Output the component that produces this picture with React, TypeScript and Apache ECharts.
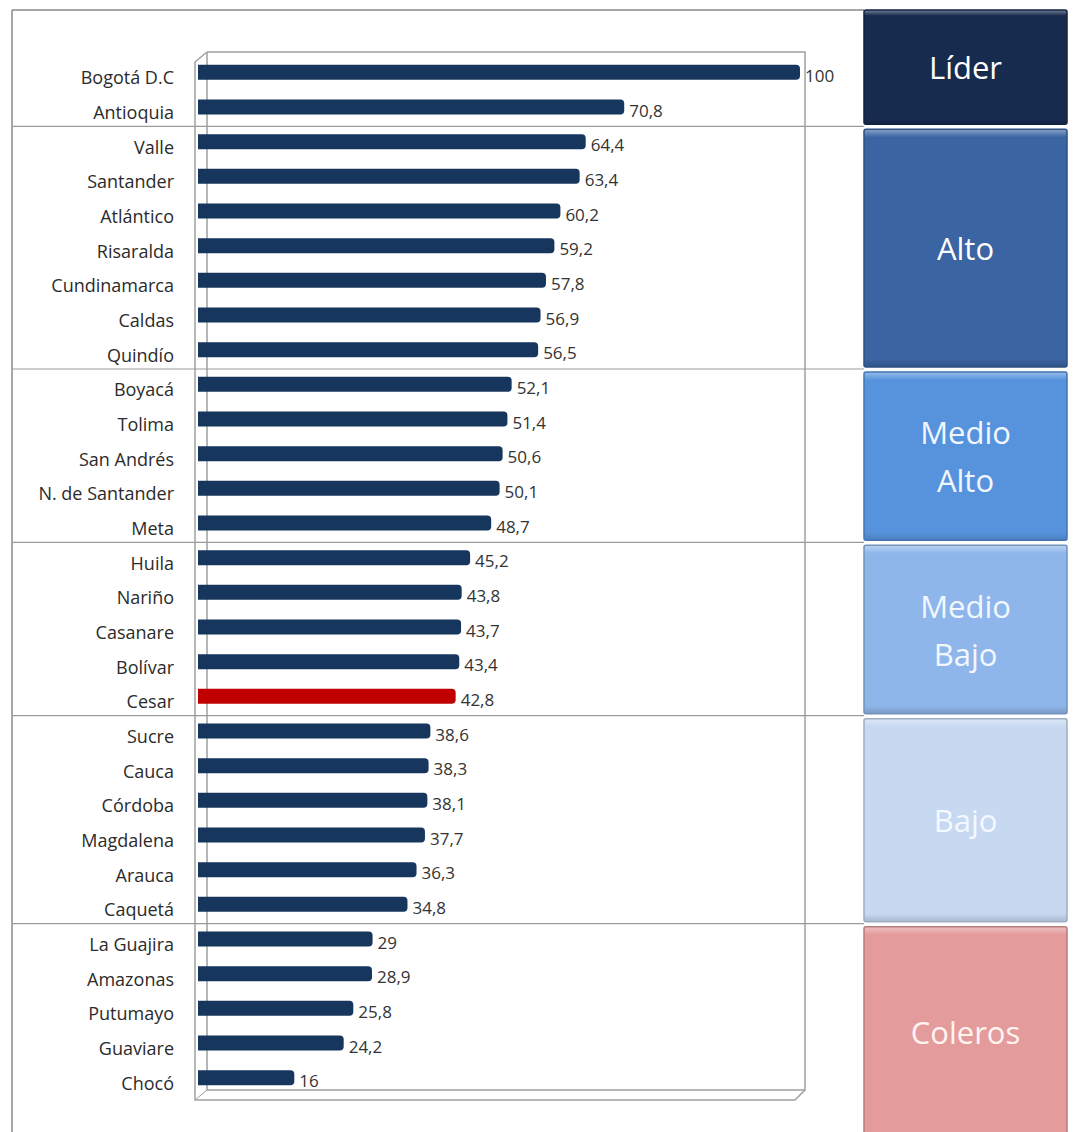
import React, { useEffect, useRef } from "react";
import * as echarts from "echarts";

const categories = [
  "Bogotá D.C", "Antioquia", "Valle", "Santander", "Atlántico", "Risaralda", "Cundinamarca", "Caldas", "Quindío",
  "Boyacá", "Tolima", "San Andrés", "N. de Santander", "Meta",
  "Huila", "Nariño", "Casanare", "Bolívar", "Cesar",
  "Sucre", "Cauca", "Córdoba", "Magdalena", "Arauca", "Caquetá",
  "La Guajira", "Amazonas", "Putumayo", "Guaviare", "Chocó",
];
const values = [
  100, 70.8, 64.4, 63.4, 60.2, 59.2, 57.8, 56.9, 56.5,
  52.1, 51.4, 50.6, 50.1, 48.7,
  45.2, 43.8, 43.7, 43.4, 42.8,
  38.6, 38.3, 38.1, 37.7, 36.3, 34.8,
  29, 28.9, 25.8, 24.2, 16,
];
const highlighted = ["Cesar"];
const groupNames = ["Líder", "Alto", "Medio\nAlto", "Medio\nBajo", "Bajo", "Coleros"];
const groupSizes = [2, 7, 5, 5, 6, 5];
const groupColors = ["#172b4f", "#3a64a2", "#5793dd", "#8fb6ea", "#c6d9f1", "#e49b9b"];
const groupTextColors = ["#ffffff", "#ffffff", "#f2f7ff", "#f2f7ff", "#f4f8ff", "#fff4f2"];

const BAR = "#17365d";
const HIGHLIGHT = "#c00000";

function shade(hex: string, f: number): string {
  const n = parseInt(hex.slice(1), 16);
  let r = (n >> 16) & 255, g = (n >> 8) & 255, b = n & 255;
  if (f >= 0) {
    r = Math.round(r + (255 - r) * f); g = Math.round(g + (255 - g) * f); b = Math.round(b + (255 - b) * f);
  } else {
    r = Math.round(r * (1 + f)); g = Math.round(g * (1 + f)); b = Math.round(b * (1 + f));
  }
  return `rgb(${r},${g},${b})`;
}

export default function App() {
  const ref = useRef<HTMLDivElement>(null);
  useEffect(() => {
    document.body.style.margin = "0";
    const chart = echarts.init(ref.current!, null, { renderer: "svg" });
    const option: any = {
      animation: false,
      backgroundColor: "#ffffff",
      grid: { left: 198, right: 273, top: 55, bottom: 37, containLabel: false },
      xAxis: { type: "value", min: 0, max: 100, show: false },
      yAxis: {
        type: "category",
        inverse: true,
        data: categories,
        axisLine: { show: false },
        axisTick: { show: false },
        axisLabel: {
          fontFamily: "Open Sans",
          fontSize: 18,
          color: "#2b2b2b",
          margin: 24,
          verticalAlign: "top",
          lineHeight: 10,
        },
      },
      series: [
        {
          type: "bar",
          barWidth: 15,
          data: values.map((v, i) => ({
            value: v,
            itemStyle: {
              color: highlighted.includes(categories[i]) ? HIGHLIGHT : BAR,
              borderRadius: [0, 4, 4, 0],
            },
          })),
          label: {
            show: true,
            position: "right",
            distance: 5,
            offset: [0, 3],
            fontFamily: "Open Sans",
            fontSize: 17,
            color: "#333333",
            formatter: (p: any) => String(p.value).replace(".", ","),
          },
        },
      ],
    };
    chart.setOption(option);

    const rowY = (i: number) => chart.convertToPixel({ yAxisIndex: 0 }, i) as number;
    const H = 1132;
    const frameL = 12, frameT = 10, panelL = 864, panelR = 1067;
    const graphics: any[] = [];

    graphics.push({ type: "line", shape: { x1: frameL, y1: frameT, x2: panelL, y2: frameT }, style: { stroke: "#8a8a8a", lineWidth: 1.5 } });
    graphics.push({ type: "line", shape: { x1: frameL, y1: frameT, x2: frameL, y2: H }, style: { stroke: "#8a8a8a", lineWidth: 1.5 } });

    const x0 = chart.convertToPixel({ xAxisIndex: 0 }, 0) as number;
    const x100 = chart.convertToPixel({ xAxisIndex: 0 }, 100) as number;
    const bx1 = x0 + 9, bx2 = x100 + 5, by1 = 52, by2 = 1090, d = 10;
    graphics.push({ type: "polyline", shape: { points: [[bx1, by1], [bx2, by1], [bx2, by2], [bx1, by2], [bx1, by1]] }, style: { stroke: "#a0a0a0", lineWidth: 1.5, fill: "none" }, z: 0 });
    graphics.push({ type: "polyline", shape: { points: [[bx1, by1], [bx1 - d - 2, by1 + d], [bx1 - d - 2, by2 + d], [bx2 - d, by2 + d], [bx2, by2]] }, style: { stroke: "#a0a0a0", lineWidth: 1.5, fill: "none" }, z: 0 });
    graphics.push({ type: "line", shape: { x1: bx1, y1: by2, x2: bx1 - d - 2, y2: by2 + d }, style: { stroke: "#a0a0a0", lineWidth: 1 }, z: 0 });

    let start = 0;
    const seps: number[] = [];
    for (let g = 0; g < groupSizes.length - 1; g++) {
      start += groupSizes[g];
      seps.push((rowY(start - 1) + rowY(start)) / 2 + 2);
    }
    seps.forEach((y) => {
      graphics.push({ type: "line", shape: { x1: frameL, y1: y, x2: panelL, y2: y }, style: { stroke: "#9a9a9a", lineWidth: 1.2 }, z: 1 });
    });
    const bounds = [frameT, ...seps, H + 10];
    groupNames.forEach((name, g) => {
      const top = g === 0 ? bounds[0] : bounds[g] + 3;
      const bottom = g === groupNames.length - 1 ? bounds[g + 1] : bounds[g + 1] - 2;
      const h = bottom - top;
      const c = groupColors[g];
      const edge = Math.min(0.05, 8 / h);
      graphics.push({
        type: "rect",
        shape: { x: panelL, y: top, width: panelR - panelL, height: h, r: 2 },
        style: {
          fill: new echarts.graphic.LinearGradient(0, 0, 0, 1, [
            { offset: 0, color: shade(c, 0.4) },
            { offset: edge, color: c },
            { offset: 1 - edge, color: c },
            { offset: 1, color: shade(c, -0.15) },
          ]),
          stroke: shade(c, -0.2),
          lineWidth: 1.5,
        },
        z: 2,
      });
      graphics.push({
        type: "text",
        x: (panelL + panelR) / 2,
        y: g === groupNames.length - 1 ? top + 105 : top + h / 2,
        style: {
          text: name,
          fill: groupTextColors[g],
          font: "31px 'Open Sans'",
          align: "center",
          verticalAlign: "middle",
          lineHeight: 48,
        },
        z: 3,
      });
    });

    chart.setOption({ graphic: graphics });
    return () => chart.dispose();
  }, []);
  return <div ref={ref} style={{ width: 1073, height: 1132 }} />;
}
